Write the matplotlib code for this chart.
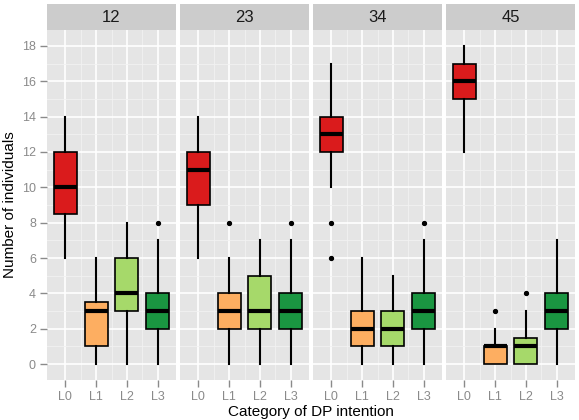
import matplotlib.pyplot as plt
from matplotlib.patches import Rectangle

facets = ['12', '23', '34', '45']
categories = ['L0', 'L1', 'L2', 'L3']
colors = ['#DA1B1C', '#FDAE61', '#A6D96A', '#1A9641']

# box stats per facet, one value per category
whislo = [[6, 0, 0, 0], [6, 0, 0, 0], [10, 0, 0, 0], [12, 0, 0, 0]]
q1 = [[8.5, 1, 3, 2], [9, 2, 2, 2], [12, 1, 1, 2], [15, 0, 0, 2]]
med = [[10, 3, 4, 3], [11, 3, 3, 3], [13, 2, 2, 3], [16, 1, 1, 3]]
q3 = [[12, 3.5, 6, 4], [12, 4, 5, 4], [14, 3, 3, 4], [17, 1, 1.5, 4]]
whishi = [[14, 6, 8, 7], [14, 6, 7, 7], [17, 6, 5, 7], [18, 2, 3, 7]]
fliers = [[[], [], [], [8]],
          [[], [8], [], [8]],
          [[8, 6], [], [], [8]],
          [[], [3], [4], []]]

plt.rcParams['font.family'] = ['Liberation Sans', 'DejaVu Sans']

fig = plt.figure(figsize=(5.79, 4.2), dpi=100)
W, H = 579.0, 420.0
lefts = [47, 180, 313, 446]
pw = 129
top, bottom = 30, 380
strip_h = 26

for i, facet in enumerate(facets):
    ax = fig.add_axes([lefts[i] / W, 1 - bottom / H, pw / W, (bottom - top) / H])
    ax.set_facecolor('#E5E5E5')
    stats = []
    for j in range(len(categories)):
        stats.append({'whislo': whislo[i][j], 'q1': q1[i][j], 'med': med[i][j],
                      'q3': q3[i][j], 'whishi': whishi[i][j], 'fliers': fliers[i][j]})
    bp = ax.bxp(stats, positions=range(1, 5), widths=0.75, patch_artist=True,
                showcaps=False,
                boxprops=dict(edgecolor='black', linewidth=1.2),
                medianprops=dict(color='black', linewidth=3, solid_capstyle='butt'),
                whiskerprops=dict(color='black', linewidth=1.5),
                flierprops=dict(marker='o', markerfacecolor='black', markeredgecolor='black',
                                markersize=2.8))
    for patch, c in zip(bp['boxes'], colors):
        patch.set_facecolor(c)
    for el in bp['boxes'] + bp['medians'] + bp['whiskers'] + bp['fliers']:
        el.set_zorder(3)

    ax.set_xlim(0.4, 4.6)
    ax.set_ylim(-0.9, 18.9)
    ax.set_xticks(range(1, 5))
    ax.set_xticklabels(categories)
    ax.set_xticks([1.5, 2.5, 3.5], minor=True)
    ax.set_yticks(range(0, 19, 2))
    ax.set_yticks(range(1, 19, 2), minor=True)
    ax.grid(which='major', color='white', linewidth=1.2, zorder=0)
    ax.grid(which='minor', color='#F2F2F2', linewidth=0.6, zorder=0)
    ax.set_axisbelow(True)
    for s in ax.spines.values():
        s.set_visible(False)
    ax.tick_params(which='major', colors='#8A8A8A', length=5, width=1, labelsize=9, pad=3)
    ax.tick_params(which='minor', length=0)
    if i > 0:
        ax.tick_params(axis='y', which='major', left=False, labelleft=False)

    sh = strip_h / (bottom - top)
    ax.add_patch(Rectangle((0, 1), 1, sh, transform=ax.transAxes, facecolor='#CCCCCC',
                           edgecolor='none', clip_on=False))
    ax.text(0.5, 1 + sh / 2, facet, transform=ax.transAxes, ha='center', va='center',
            fontsize=12, color='#1A1A1A')

fig.text(0.018, 1 - 205 / H, 'Number of individuals', rotation=90, ha='center', va='center',
         fontsize=11)
fig.text(310.5 / W, 1 - 419 / H, 'Category of DP intention', ha='center', va='bottom',
         fontsize=11)

fig.savefig('out.png', dpi=100)
